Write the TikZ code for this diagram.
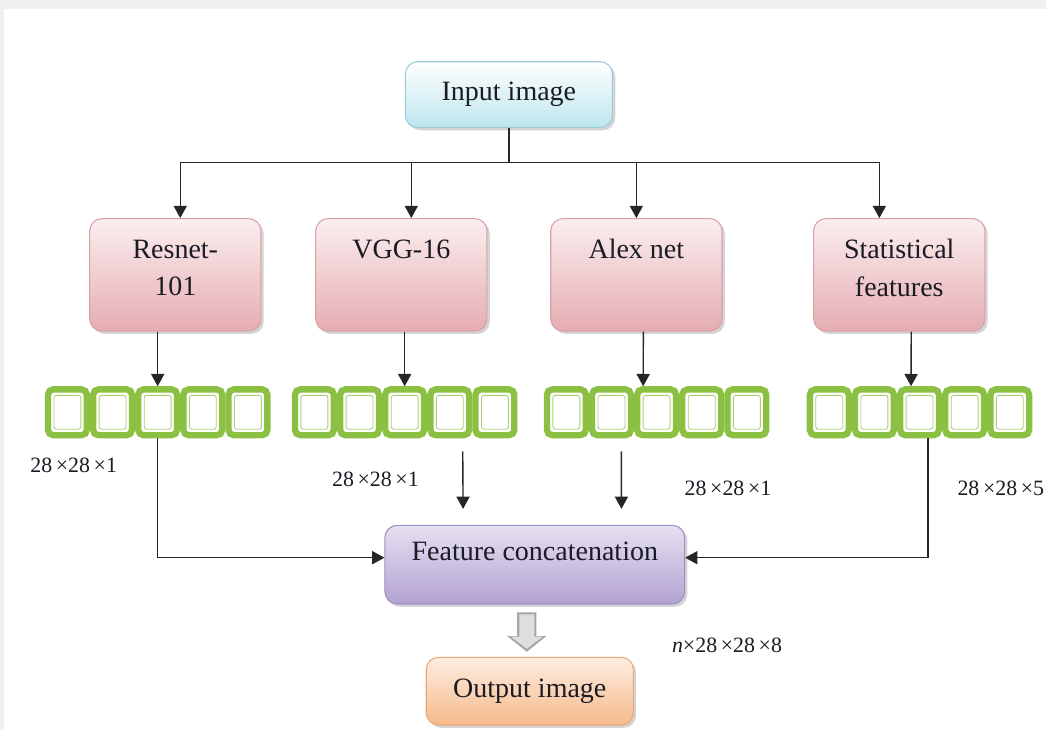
\documentclass[tikz,border=0pt]{standalone}
\usepackage{fontspec}
\setmainfont{Liberation Serif}
\usetikzlibrary{positioning,arrows.meta,shadows}

\definecolor{framegray}{HTML}{EFF0F2}
\definecolor{inktext}{HTML}{1B1B24}
\definecolor{cyanlow}{HTML}{BDE5EE}
\definecolor{cyanedge}{HTML}{9CCAD8}
\definecolor{pinktop}{HTML}{FBEEEF}
\definecolor{pinklow}{HTML}{E5ADB2}
\definecolor{pinkedge}{HTML}{D9A0A6}
\definecolor{purptop}{HTML}{E6E0F1}
\definecolor{purplow}{HTML}{B2A2D2}
\definecolor{purpedge}{HTML}{A08FC3}
\definecolor{orantop}{HTML}{FDEDE0}
\definecolor{oranlow}{HTML}{F6BA8B}
\definecolor{oranedge}{HTML}{EAA87A}
\definecolor{vecgreen}{HTML}{8CC043}

\begin{document}
\begin{tikzpicture}[
  x=0.02cm, y=-0.02cm,
  font=\fontsize{16}{21.5}\selectfont, text=inktext,
  box/.style={draw, rounded corners=7pt, align=center, line width=0.6pt, inner sep=4pt,
    drop shadow={shadow xshift=1.6pt, shadow yshift=-1.6pt, opacity=0.28, fill=black!60}},
  inbox/.style={box, draw=cyanedge, top color=white, bottom color=cyanlow,
    minimum width=4.16cm, minimum height=1.32cm},
  net/.style={box, draw=pinkedge, top color=pinktop, bottom color=pinklow,
    minimum width=3.44cm, minimum height=2.26cm, text depth=8pt},
  merge/.style={box, draw=purpedge, top color=purptop, bottom color=purplow,
    minimum width=6.02cm, minimum height=1.58cm, text depth=15pt},
  outbox/.style={box, draw=oranedge, top color=orantop, bottom color=oranlow,
    minimum width=4.16cm, minimum height=1.36cm},
  cell/.style={draw=vecgreen, line width=3.6pt, fill=white, rounded corners=3pt,
    minimum width=0.78cm, minimum height=0.92cm, inner sep=0pt,
    path picture={\draw[vecgreen!75, line width=0.5pt, rounded corners=1.5pt]
      ([shift={(3.4pt,-3.4pt)}]path picture bounding box.north west) rectangle
      ([shift={(-3.4pt,3.4pt)}]path picture bounding box.south east);}},
  dim/.style={font=\fontsize{12.5}{14}\selectfont},
  flow/.style={-{Triangle[length=7pt,width=7.5pt]}, line width=0.8pt, black!85},
  fat/.style={line width=11pt, -{Triangle[length=9pt,width=22pt]}}
]
% frame
\fill[framegray] (0,0) rectangle (1050,733);
\fill[white] (4,9) rectangle (1050,733);

% boxes
\node[inbox] (input) at (511,95) {Input image};
\node[net] (resnet) at (176,276) {Resnet-\\101};
\node[net] (vgg) at (403,276) {VGG-16\\\mbox{}};
\node[net] (alex) at (639,276) {Alex net\\\mbox{}};
\node[net] (stat) at (903,276) {Statistical\\features};
\node[merge] (feat) at (537,567) {Feature concatenation};
\node[outbox] (out) at (532,694) {Output image};

% feature vectors
\foreach \row/\xx in {1/67.7, 2/315.7, 3/568.7, 4/832.7} {
  \node[cell] (vec\row-1) at (\xx,414) {};
  \foreach \c [count=\p from 1] in {2,...,5}
    \node[cell, right=0pt of vec\row-\p] (vec\row-\c) {};
}

% sizes
\node[dim] (d1) at (74,467) {28\,×28\,×1};
\node[dim] (d2) at (377,481) {28\,×28\,×1};
\node[dim] (d3) at (731,490) {28\,×28\,×1};
\node[dim] (d4) at (1005,490) {28\,×28\,×5};
\node[dim] (d5) at (730,648) {\textit{n}×28\,×28\,×8};

% split to the four branches
\coordinate (split) at (511,163);
\draw[line width=0.8pt, black!85] (input) -- (split);
\draw[flow] (split) -| ([xshift=0.1cm]resnet.north);
\draw[flow] (split) -| ([xshift=0.2cm]vgg.north);
\draw[flow] (split) -| (alex.north);
\draw[flow] (split) -| ([xshift=-0.4cm]stat.north);

% branch to vector
\draw[flow] (vec1-3 |- resnet.south) -- (vec1-3.north);
\draw[flow] (vec2-3 |- vgg.south) -- (vec2-3.north);
\draw[flow] ([xshift=0.14cm]alex.south) -- ([xshift=-0.27cm]vec3-3.north);
\draw[flow] ([xshift=0.24cm]stat.south) -- ([xshift=-0.17cm]vec4-3.north);

% vectors to concatenation
\draw[flow] (vec1-3.south) |- ([yshift=0.14cm]feat.west);
\draw[flow] ([xshift=0.17cm]vec4-3.south) |- ([yshift=0.14cm]feat.east);
\draw[flow] ([xshift=0.26cm,yshift=-0.26cm]vec2-4.south) -- ([xshift=-1.44cm,yshift=0.32cm]feat.north);
\draw[flow] ([xshift=0.2cm,yshift=-0.26cm]vec3-2.south) -- ([xshift=1.74cm,yshift=0.32cm]feat.north);

% to output
\draw[fat, gray!70] ([xshift=-0.16cm,yshift=-0.16cm]feat.south) -- ([xshift=-0.06cm,yshift=0.1cm]out.north);
\draw[fat, line width=8.6pt, -{Triangle[length=7pt,width=18pt]}, gray!25]
  ([xshift=-0.16cm,yshift=-0.2cm]feat.south) -- ([xshift=-0.06cm,yshift=0.16cm]out.north);
\end{tikzpicture}
\end{document}
